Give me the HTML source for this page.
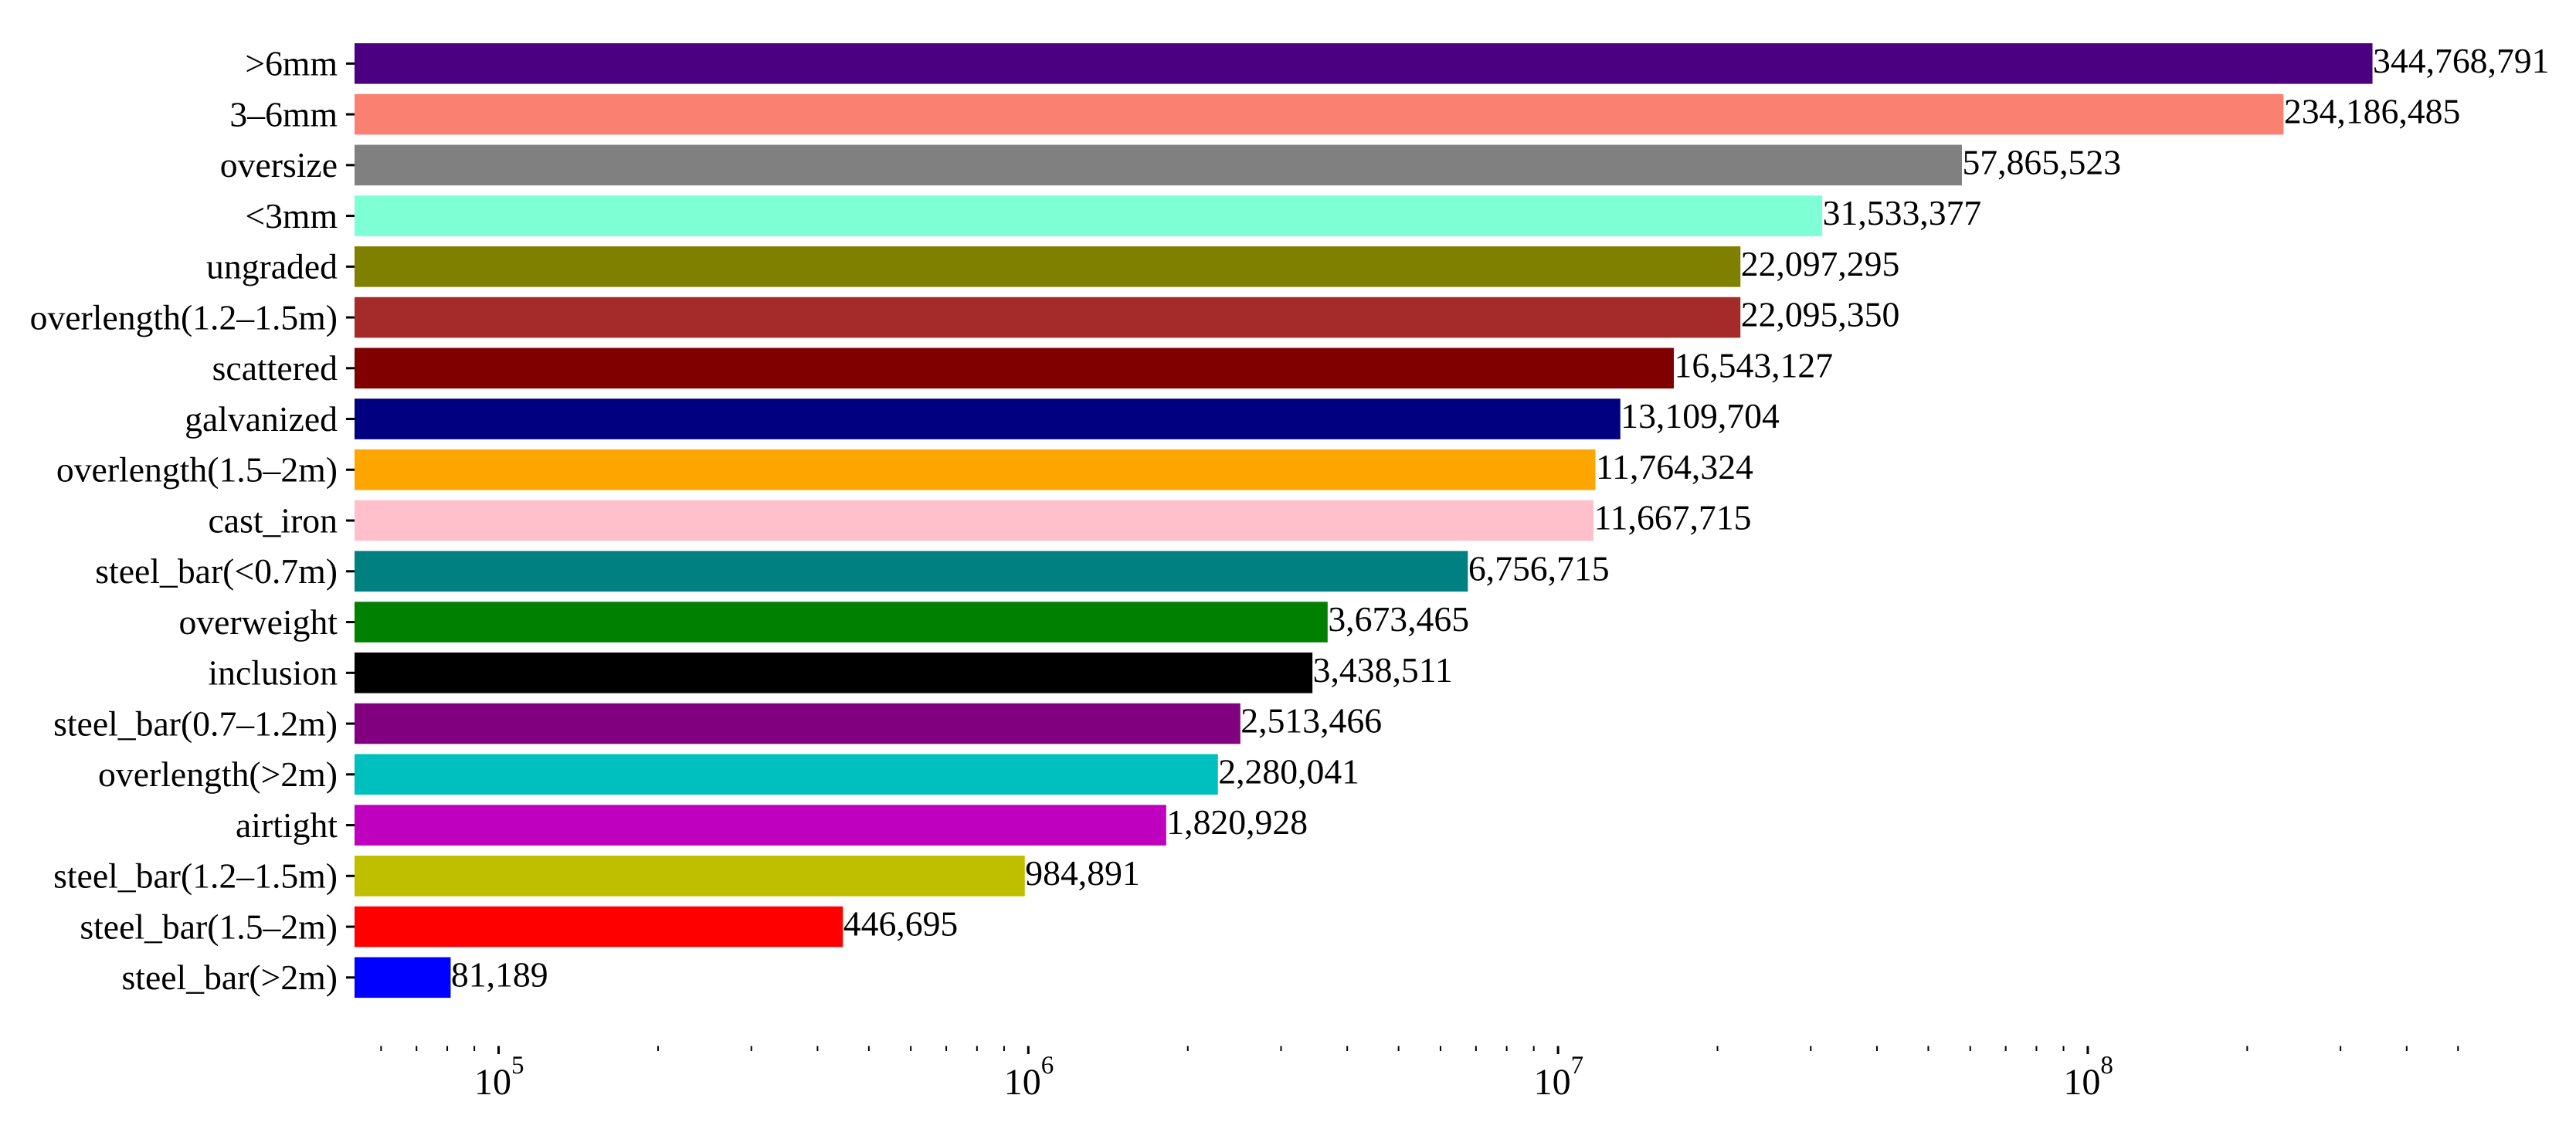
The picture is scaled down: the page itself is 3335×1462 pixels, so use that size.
<!DOCTYPE html>
<html>
<head>
<meta charset="utf-8">
<title>Defect counts</title>
<style>
html,body{margin:0;padding:0;background:#fff;width:3335px;height:1462px;overflow:hidden}
svg{display:block}
text{font-family:"Liberation Serif","Times New Roman",serif;fill:#000;text-rendering:geometricPrecision}
</style>
</head>
<body>
<svg id="chart" xmlns="http://www.w3.org/2000/svg" width="3335" height="1462" viewBox="0 0 3335 1462">
<rect x="0" y="0" width="3335" height="1462" fill="#ffffff"/>
</svg>
<script>
const categories = [">6mm","3–6mm","oversize","<3mm","ungraded","overlength(1.2–1.5m)","scattered","galvanized","overlength(1.5–2m)","cast_iron","steel_bar(<0.7m)","overweight","inclusion","steel_bar(0.7–1.2m)","overlength(>2m)","airtight","steel_bar(1.2–1.5m)","steel_bar(1.5–2m)","steel_bar(>2m)"];
const counts = [344768791,234186485,57865523,31533377,22097295,22095350,16543127,13109704,11764324,11667715,6756715,3673465,3438511,2513466,2280041,1820928,984891,446695,81189];
const barColors = ["#4b0082","#fa8072","#808080","#7fffd4","#808000","#a52a2a","#800000","#000080","#ffa500","#ffc0cb","#008080","#008000","#000000","#800080","#00bfbf","#bf00bf","#bfbf00","#ff0000","#0000ff"];
const majorExponents = [5,6,7,8];
const minorValues = [6e4,7e4,8e4,9e4,2e5,3e5,4e5,5e5,6e5,7e5,8e5,9e5,2e6,3e6,4e6,5e6,6e6,7e6,8e6,9e6,2e7,3e7,4e7,5e7,6e7,7e7,8e7,9e7,2e8,3e8,4e8,5e8];

const svgNS = "http://www.w3.org/2000/svg";
const svg = document.getElementById("chart");
const FONT = 45.7;
const AXIS_FONT = 48;
const SUP_FONT = 33;
const X_AT_1E5 = 645.5;
const PX_PER_DECADE = 685.8;
const X_LEFT = 459;
const Y_FIRST = 82.3;
const Y_STEP = 65.75;
const BAR_H = 52.6;
const TICK_TOP = 1354.5;

function xScale(v){ return X_AT_1E5 + (Math.log10(v) - 5) * PX_PER_DECADE; }
function yScale(i){ return Y_FIRST + i * Y_STEP; }
function make(tag, attrs, parent){
  const el = document.createElementNS(svgNS, tag);
  for (const k in attrs) el.setAttribute(k, attrs[k]);
  parent.appendChild(el);
  return el;
}
function slug(s){ return s.replace(/[^a-zA-Z0-9]+/g, "-").replace(/^-|-$/g, "").toLowerCase(); }

const barsGroup = make("g", {}, svg);


const yAxisGroup = make("g", {}, svg);


const valuesGroup = make("g", {}, svg);


const xAxisGroup = make("g", {}, svg);



categories.forEach(function(cat, i){
  const cy = yScale(i);
  const xEnd = xScale(counts[i]);
  const key = slug(cat.replace(">", "over-").replace("<", "under-"));

  const bar = make("rect", {x: X_LEFT, y: cy - BAR_H / 2, width: Math.max(0, xEnd - X_LEFT), height: BAR_H, fill: barColors[i]}, barsGroup);
  
  

  const tick = make("rect", {x: 448, y: cy - 1.5, width: 11, height: 3, fill: "#000"}, yAxisGroup);
  
  

  const label = make("text", {x: 437, y: cy + 15.2, "font-size": FONT, "text-anchor": "end"}, yAxisGroup);
  label.textContent = cat;
  
  

  const val = make("text", {x: xEnd + 0.5, y: cy + 11.5, "font-size": FONT}, valuesGroup);
  val.textContent = counts[i].toLocaleString("en-US");
  
  
});

minorValues.forEach(function(v){
  const t = make("rect", {x: xScale(v) - 1, y: TICK_TOP, width: 2, height: 6.5, fill: "#000"}, xAxisGroup);
  
  
});

majorExponents.forEach(function(e){
  const px = xScale(Math.pow(10, e));
  const t = make("rect", {x: px - 1.5, y: TICK_TOP, width: 3, height: 10.5, fill: "#000"}, xAxisGroup);
  
  

  const base = make("text", {x: px - 31.5, y: 1417, "font-size": AXIS_FONT}, xAxisGroup);
  base.textContent = "10";
  
  

  const sup = make("text", {x: px + 16.5, y: 1390, "font-size": SUP_FONT}, xAxisGroup);
  sup.textContent = String(e);
  
  
});
</script>
</body>
</html>
